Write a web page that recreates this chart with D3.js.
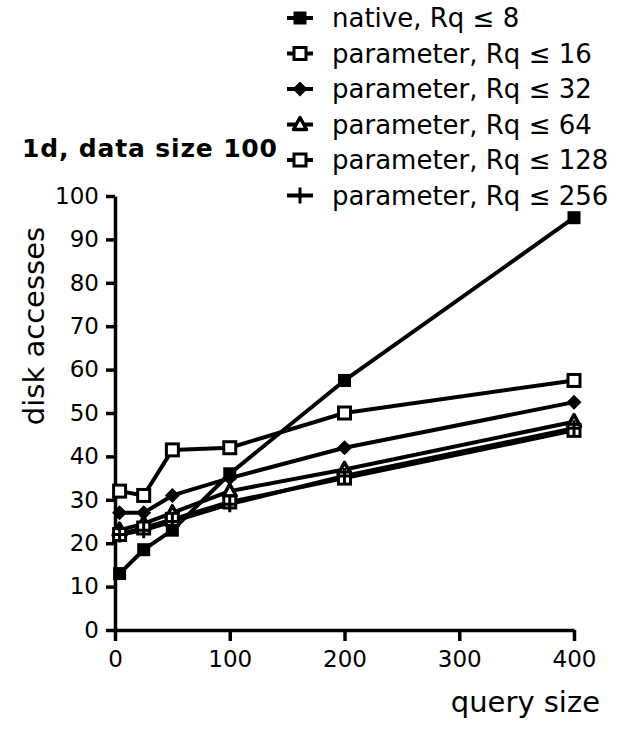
<!DOCTYPE html>
<html>
<head>
<meta charset="utf-8">
<script src="https://cdn.jsdelivr.net/npm/d3@7"></script>
<style>
  html, body { margin: 0; padding: 0; background: #fff; }
  svg { display: block; }
  text { font-family: "DejaVu Sans", sans-serif; fill: #000; }
</style>
</head>
<body>
<script>
// Query sizes on the x axis
const querySizes = [4, 25, 50, 100, 200, 400];

// Disk accesses per series
const nativeRq8     = [13, 18.5, 23, 36, 57.5, 95];
const paramRq16     = [32, 31, 41.5, 42, 50, 57.5];
const paramRq32     = [27, 27, 31, 35, 42, 52.5];
const paramRq64     = [23, 24.5, 27, 32, 37, 48];
const paramRq128    = [22, 23.5, 25.5, 29.5, 35, 46];
const paramRq256    = [22, 23, 25, 29, 35.5, 46.5];

const seriesNames = [
  "native, Rq \u2264 8",
  "parameter, Rq \u2264 16",
  "parameter, Rq \u2264 32",
  "parameter, Rq \u2264 64",
  "parameter, Rq \u2264 128",
  "parameter, Rq \u2264 256"
];
const seriesValues = [nativeRq8, paramRq16, paramRq32, paramRq64, paramRq128, paramRq256];
const seriesMarkers = ["filledSquare", "openSquare", "diamond", "triangle", "openSquare", "plus"];

const xTicks = [0, 100, 200, 300, 400];
const yTicks = [0, 10, 20, 30, 40, 50, 60, 70, 80, 90, 100];

const W = 632, H = 732;
const svg = d3.select("body").append("svg").attr("width", W).attr("height", H);

const x = d3.scaleLinear().domain([0, 400]).range([115, 574]);
const y = d3.scaleLinear().domain([0, 100]).range([630, 196]);

// Axes
const yAxis = svg.append("g").attr("transform", `translate(${x(0)},0)`)
  .call(d3.axisLeft(y).tickValues(yTicks).tickSize(9).tickPadding(6).tickSizeOuter(0));
const xAxis = svg.append("g").attr("transform", `translate(0,${y(0)})`)
  .call(d3.axisBottom(x).tickValues(xTicks).tickSize(11).tickPadding(10).tickSizeOuter(0));

[yAxis, xAxis].forEach(g => {
  g.select(".domain").attr("stroke", "#000").attr("stroke-width", 3.5);
  g.selectAll(".tick line").attr("stroke", "#000").attr("stroke-width", 3.5);
  g.selectAll(".tick text").style("font-size", "23px").attr("fill", "#000");
});
yAxis.selectAll(".tick text").attr("dx", "-1");

// Marker drawing
function drawMarker(g, type, cx, cy) {
  if (type === "filledSquare") {
    g.append("rect").attr("x", cx - 6.5).attr("y", cy - 6.5).attr("width", 13).attr("height", 13)
      .attr("fill", "#000");
  } else if (type === "openSquare") {
    g.append("rect").attr("x", cx - 6).attr("y", cy - 6).attr("width", 12).attr("height", 12)
      .attr("fill", "#fff").attr("stroke", "#000").attr("stroke-width", 3);
  } else if (type === "diamond") {
    g.append("path").attr("transform", `translate(${cx},${cy})`)
      .attr("d", "M0,-7.5L7.5,0L0,7.5L-7.5,0Z").attr("fill", "#000");
  } else if (type === "triangle") {
    g.append("path").attr("transform", `translate(${cx},${cy})`)
      .attr("d", "M0,-7L6.5,5L-6.5,5Z").attr("fill", "#fff").attr("stroke", "#000")
      .attr("stroke-width", 3.5).attr("stroke-linejoin", "round");
  } else if (type === "plus") {
    g.append("path").attr("transform", `translate(${cx},${cy})`)
      .attr("d", "M-7,0H7M0,-8V8").attr("stroke", "#000").attr("stroke-width", 3);
  }
}

// Lines and markers
const line = d3.line().x((d, i) => x(querySizes[i])).y(d => y(d));
const plot = svg.append("g");
seriesValues.forEach((vals, s) => {
  plot.append("path").datum(vals).attr("d", line)
    .attr("fill", "none").attr("stroke", "#000").attr("stroke-width", 4)
    .attr("stroke-linejoin", "round").attr("stroke-linecap", "round");
});
seriesValues.forEach((vals, s) => {
  const g = plot.append("g");
  vals.forEach((v, i) => drawMarker(g, seriesMarkers[s], x(querySizes[i]), y(v)));
});

// Legend
const legend = svg.append("g");
seriesNames.forEach((name, i) => {
  const ly = 18 + i * 35.5;
  const g = legend.append("g");
  g.append("line").attr("x1", 287).attr("x2", 313).attr("y1", ly).attr("y2", ly)
    .attr("stroke", "#000").attr("stroke-width", 4);
  drawMarker(g, seriesMarkers[i], 300, ly);
  g.append("text").attr("x", 332).attr("y", ly + 9).style("font-size", "26px").text(name);
});

// Titles
svg.append("text").attr("x", 22).attr("y", 157).attr("textLength", 255)
  .style("font-size", "25px").style("font-weight", "bold").text("1d, data size 100");
svg.append("text").attr("transform", "translate(44,326) rotate(-90)")
  .attr("text-anchor", "middle").style("font-size", "29px").text("disk accesses");
svg.append("text").attr("x", 600).attr("y", 712).attr("text-anchor", "end")
  .style("font-size", "29px").text("query size");
</script>
</body>
</html>
